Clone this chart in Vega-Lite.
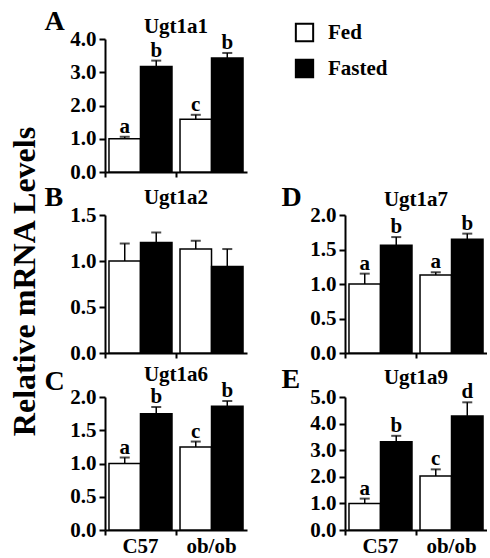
{
  "$schema": "https://vega.github.io/schema/vega-lite/v6.json",
  "padding": {"left": 8, "top": 7, "right": 0, "bottom": 0},
  "background": "white",
  "title": {"text": "Relative mRNA Levels", "orient": "left", "anchor": "middle", "frame": "bounds", "fontSize": 32, "font": "Liberation Serif", "fontWeight": "bold", "color": "black", "offset": 2},
  "data": {"values": [
    {"panel": "Ugt1a1", "genotype": "C57", "condition": "Fed", "value": 1.0, "upper": 1.06, "sig": "a"},
    {"panel": "Ugt1a1", "genotype": "C57", "condition": "Fasted", "value": 3.17, "upper": 3.35, "sig": "b"},
    {"panel": "Ugt1a1", "genotype": "ob/ob", "condition": "Fed", "value": 1.59, "upper": 1.72, "sig": "c"},
    {"panel": "Ugt1a1", "genotype": "ob/ob", "condition": "Fasted", "value": 3.43, "upper": 3.58, "sig": "b"},
    {"panel": "Ugt1a2", "genotype": "C57", "condition": "Fed", "value": 1.0, "upper": 1.19, "sig": ""},
    {"panel": "Ugt1a2", "genotype": "C57", "condition": "Fasted", "value": 1.2, "upper": 1.31, "sig": ""},
    {"panel": "Ugt1a2", "genotype": "ob/ob", "condition": "Fed", "value": 1.13, "upper": 1.22, "sig": ""},
    {"panel": "Ugt1a2", "genotype": "ob/ob", "condition": "Fasted", "value": 0.94, "upper": 1.13, "sig": ""},
    {"panel": "Ugt1a6", "genotype": "C57", "condition": "Fed", "value": 1.0, "upper": 1.09, "sig": "a"},
    {"panel": "Ugt1a6", "genotype": "C57", "condition": "Fasted", "value": 1.75, "upper": 1.85, "sig": "b"},
    {"panel": "Ugt1a6", "genotype": "ob/ob", "condition": "Fed", "value": 1.25, "upper": 1.33, "sig": "c"},
    {"panel": "Ugt1a6", "genotype": "ob/ob", "condition": "Fasted", "value": 1.86, "upper": 1.94, "sig": "b"},
    {"panel": "Ugt1a7", "genotype": "C57", "condition": "Fed", "value": 1.0, "upper": 1.15, "sig": "a"},
    {"panel": "Ugt1a7", "genotype": "C57", "condition": "Fasted", "value": 1.56, "upper": 1.68, "sig": "b"},
    {"panel": "Ugt1a7", "genotype": "ob/ob", "condition": "Fed", "value": 1.13, "upper": 1.17, "sig": "a"},
    {"panel": "Ugt1a7", "genotype": "ob/ob", "condition": "Fasted", "value": 1.65, "upper": 1.73, "sig": "b"},
    {"panel": "Ugt1a9", "genotype": "C57", "condition": "Fed", "value": 1.0, "upper": 1.18, "sig": "a"},
    {"panel": "Ugt1a9", "genotype": "C57", "condition": "Fasted", "value": 3.32, "upper": 3.54, "sig": "b"},
    {"panel": "Ugt1a9", "genotype": "ob/ob", "condition": "Fed", "value": 2.03, "upper": 2.28, "sig": "c"},
    {"panel": "Ugt1a9", "genotype": "ob/ob", "condition": "Fasted", "value": 4.29, "upper": 4.8, "sig": "d"}
  ]},
  "spacing": 1,
  "resolve": {"scale": {"y": "independent", "x": "independent", "xOffset": "independent"}},
  "vconcat": [
    {
      "width": 142, "height": 133,
      "title": {"text": "Ugt1a1", "offset": -30},
      "transform": [{"filter": "datum.panel == 'Ugt1a1'"}],
      "encoding": {
        "x": {"field": "genotype", "type": "nominal", "sort": ["C57", "ob/ob"], "scale": {"paddingInner": 0.113, "paddingOuter": 0.056}, "axis": {"labels": false, "title": null, "bandPosition": -0.063, "tickSize": 5}},
        "xOffset": {"field": "condition", "type": "nominal", "sort": ["Fed", "Fasted"], "scale": {"paddingInner": 0, "paddingOuter": 0}}
      },
      "layer": [
        {"mark": {"type": "bar", "stroke": "black", "strokeWidth": 1.5},
         "encoding": {
           "y": {"field": "value", "type": "quantitative", "scale": {"domain": [0, 4], "nice": false}, "axis": {"values": [0, 1, 2, 3, 4], "tickCount": 10, "format": ".1f", "labelOverlap": false, "title": "A", "titleX": -61, "titleY": -10}},
           "fill": {"field": "condition", "type": "nominal", "sort": ["Fed", "Fasted"], "scale": {"domain": ["Fed", "Fasted"], "range": ["white", "black"]},
             "legend": {"title": null, "orient": "none", "legendX": 189, "legendY": -17, "symbolType": "square", "symbolSize": 300, "symbolStrokeColor": "black", "symbolStrokeWidth": 2, "labelFontSize": 21, "labelFont": "Liberation Serif", "labelFontWeight": "bold", "labelColor": "black", "rowPadding": 9, "labelOffset": 13}}
         }},
        {"mark": {"type": "rule", "color": "black", "strokeWidth": 1.5}, "encoding": {"y": {"field": "value", "type": "quantitative"}, "y2": {"field": "upper"}}},
        {"mark": {"type": "tick", "color": "black", "thickness": 2, "size": 10}, "encoding": {"y": {"field": "upper", "type": "quantitative"}}},
        {"mark": {"type": "text", "baseline": "alphabetic", "dy": -4, "fontSize": 21, "fontWeight": "bold", "font": "Liberation Serif", "color": "black"}, "encoding": {"y": {"field": "upper", "type": "quantitative"}, "text": {"field": "sig"}}}
      ]
    },
    {
      "bounds": "flush",
      "spacing": 98,
      "resolve": {"scale": {"y": "independent", "x": "independent", "xOffset": "independent"}},
      "hconcat": [
        {
          "width": 142, "height": 138,
          "title": {"text": "Ugt1a2", "offset": -25},
          "transform": [{"filter": "datum.panel == 'Ugt1a2'"}],
          "encoding": {
            "x": {"field": "genotype", "type": "nominal", "sort": ["C57", "ob/ob"], "scale": {"paddingInner": 0.113, "paddingOuter": 0.056}, "axis": {"labels": false, "title": null, "bandPosition": -0.063, "tickSize": 5}},
            "xOffset": {"field": "condition", "type": "nominal", "sort": ["Fed", "Fasted"], "scale": {"paddingInner": 0, "paddingOuter": 0}}
          },
          "layer": [
            {"mark": {"type": "bar", "stroke": "black", "strokeWidth": 1.5},
             "encoding": {
               "y": {"field": "value", "type": "quantitative", "scale": {"domain": [0, 1.5], "nice": false}, "axis": {"values": [0, 0.5, 1, 1.5], "tickCount": 10, "format": ".1f", "labelOverlap": false, "title": "B", "titleX": -61, "titleY": -10}},
               "fill": {"field": "condition", "type": "nominal", "sort": ["Fed", "Fasted"]}
             }},
            {"mark": {"type": "rule", "color": "black", "strokeWidth": 1.5}, "encoding": {"y": {"field": "value", "type": "quantitative"}, "y2": {"field": "upper"}}},
            {"mark": {"type": "tick", "color": "black", "thickness": 2, "size": 10}, "encoding": {"y": {"field": "upper", "type": "quantitative"}}}
          ]
        },
        {
          "width": 142, "height": 138,
          "title": {"text": "Ugt1a7", "offset": -27},
          "transform": [{"filter": "datum.panel == 'Ugt1a7'"}],
          "encoding": {
            "x": {"field": "genotype", "type": "nominal", "sort": ["C57", "ob/ob"], "scale": {"paddingInner": 0.113, "paddingOuter": 0.056}, "axis": {"labels": false, "title": null, "bandPosition": -0.063, "tickSize": 5}},
            "xOffset": {"field": "condition", "type": "nominal", "sort": ["Fed", "Fasted"], "scale": {"paddingInner": 0, "paddingOuter": 0}}
          },
          "layer": [
            {"mark": {"type": "bar", "stroke": "black", "strokeWidth": 1.5},
             "encoding": {
               "y": {"field": "value", "type": "quantitative", "scale": {"domain": [0, 2], "nice": false}, "axis": {"values": [0, 0.5, 1, 1.5, 2], "tickCount": 10, "format": ".1f", "labelOverlap": false, "title": "D", "titleX": -64, "titleY": -10}},
               "fill": {"field": "condition", "type": "nominal", "sort": ["Fed", "Fasted"]}
             }},
            {"mark": {"type": "rule", "color": "black", "strokeWidth": 1.5}, "encoding": {"y": {"field": "value", "type": "quantitative"}, "y2": {"field": "upper"}}},
            {"mark": {"type": "tick", "color": "black", "thickness": 2, "size": 10}, "encoding": {"y": {"field": "upper", "type": "quantitative"}}},
            {"mark": {"type": "text", "baseline": "alphabetic", "dy": -4, "fontSize": 21, "fontWeight": "bold", "font": "Liberation Serif", "color": "black"}, "encoding": {"y": {"field": "upper", "type": "quantitative"}, "text": {"field": "sig"}}}
          ]
        }
      ]
    },
    {
      "bounds": "flush",
      "spacing": 98,
      "resolve": {"scale": {"y": "independent", "x": "independent", "xOffset": "independent"}},
      "hconcat": [
        {
          "width": 142, "height": 133,
          "title": {"text": "Ugt1a6", "offset": -18},
          "transform": [{"filter": "datum.panel == 'Ugt1a6'"}],
          "encoding": {
            "x": {"field": "genotype", "type": "nominal", "sort": ["C57", "ob/ob"], "scale": {"paddingInner": 0.113, "paddingOuter": 0.056}, "axis": {"title": null, "labelAngle": 0, "bandPosition": -0.063, "tickSize": 5, "labelPadding": 0}},
            "xOffset": {"field": "condition", "type": "nominal", "sort": ["Fed", "Fasted"], "scale": {"paddingInner": 0, "paddingOuter": 0}}
          },
          "layer": [
            {"mark": {"type": "bar", "stroke": "black", "strokeWidth": 1.5},
             "encoding": {
               "y": {"field": "value", "type": "quantitative", "scale": {"domain": [0, 2], "nice": false}, "axis": {"values": [0, 0.5, 1, 1.5, 2], "tickCount": 10, "format": ".1f", "labelOverlap": false, "title": "C", "titleX": -61, "titleY": -8}},
               "fill": {"field": "condition", "type": "nominal", "sort": ["Fed", "Fasted"]}
             }},
            {"mark": {"type": "rule", "color": "black", "strokeWidth": 1.5}, "encoding": {"y": {"field": "value", "type": "quantitative"}, "y2": {"field": "upper"}}},
            {"mark": {"type": "tick", "color": "black", "thickness": 2, "size": 10}, "encoding": {"y": {"field": "upper", "type": "quantitative"}}},
            {"mark": {"type": "text", "baseline": "alphabetic", "dy": -4, "fontSize": 21, "fontWeight": "bold", "font": "Liberation Serif", "color": "black"}, "encoding": {"y": {"field": "upper", "type": "quantitative"}, "text": {"field": "sig"}}}
          ]
        },
        {
          "width": 142, "height": 133,
          "title": {"text": "Ugt1a9", "offset": -23},
          "transform": [{"filter": "datum.panel == 'Ugt1a9'"}],
          "encoding": {
            "x": {"field": "genotype", "type": "nominal", "sort": ["C57", "ob/ob"], "scale": {"paddingInner": 0.113, "paddingOuter": 0.056}, "axis": {"title": null, "labelAngle": 0, "bandPosition": -0.063, "tickSize": 5, "labelPadding": 0}},
            "xOffset": {"field": "condition", "type": "nominal", "sort": ["Fed", "Fasted"], "scale": {"paddingInner": 0, "paddingOuter": 0}}
          },
          "layer": [
            {"mark": {"type": "bar", "stroke": "black", "strokeWidth": 1.5},
             "encoding": {
               "y": {"field": "value", "type": "quantitative", "scale": {"domain": [0, 5], "nice": false}, "axis": {"values": [0, 1, 2, 3, 4, 5], "tickCount": 10, "format": ".1f", "labelOverlap": false, "title": "E", "titleX": -64, "titleY": -10}},
               "fill": {"field": "condition", "type": "nominal", "sort": ["Fed", "Fasted"]}
             }},
            {"mark": {"type": "rule", "color": "black", "strokeWidth": 1.5}, "encoding": {"y": {"field": "value", "type": "quantitative"}, "y2": {"field": "upper"}}},
            {"mark": {"type": "tick", "color": "black", "thickness": 2, "size": 10}, "encoding": {"y": {"field": "upper", "type": "quantitative"}}},
            {"mark": {"type": "text", "baseline": "alphabetic", "dy": -4, "fontSize": 21, "fontWeight": "bold", "font": "Liberation Serif", "color": "black"}, "encoding": {"y": {"field": "upper", "type": "quantitative"}, "text": {"field": "sig"}}}
          ]
        }
      ]
    }
  ],
  "config": {
    "view": {"stroke": null},
    "font": "Liberation Serif",
    "title": {"fontSize": 21, "font": "Liberation Serif", "fontWeight": "bold", "color": "black", "anchor": "middle", "baseline": "alphabetic", "frame": "group"},
    "axis": {"grid": false, "domainColor": "black", "domainWidth": 2, "tickColor": "black", "tickWidth": 2, "labelFont": "Liberation Serif", "labelFontWeight": "bold", "labelFontSize": 21, "labelColor": "black", "labelOverlap": false},
    "axisY": {"tickSize": 6, "labelPadding": 3, "titleAngle": 0, "titleAlign": "left", "titleBaseline": "alphabetic", "titleFontSize": 28, "titleFont": "Liberation Serif", "titleFontWeight": "bold", "titleColor": "black"}
  }
}
